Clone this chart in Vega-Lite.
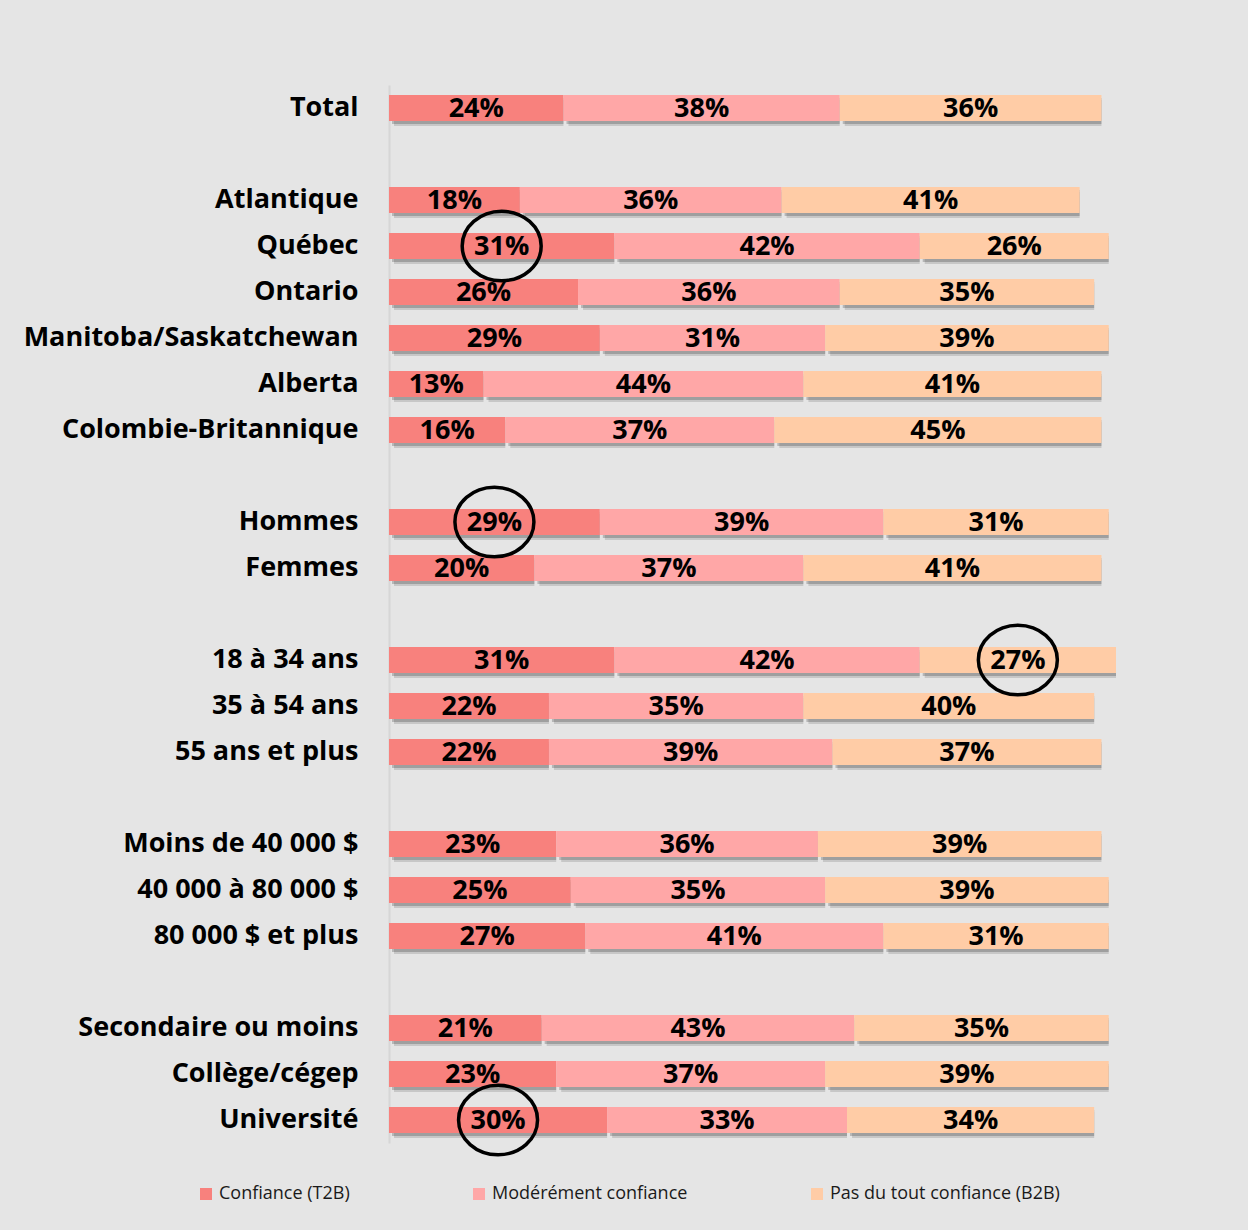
{
  "$schema": "https://vega.github.io/schema/vega-lite/v6.json",
  "autosize": "none",
  "width": 727,
  "height": 1058,
  "padding": {"left": 389, "top": 85, "right": 132, "bottom": 87},
  "background": "#E5E5E5",
  "config": {"view": {"stroke": null}, "font": "Open Sans"},
  "data": {"values": [
    {"row": "Total", "cat": "Confiance (T2B)", "v": 0.24, "circ": false},
    {"row": "Total", "cat": "Modérément confiance", "v": 0.38, "circ": false},
    {"row": "Total", "cat": "Pas du tout confiance (B2B)", "v": 0.36, "circ": false},
    {"row": "Atlantique", "cat": "Confiance (T2B)", "v": 0.18, "circ": false},
    {"row": "Atlantique", "cat": "Modérément confiance", "v": 0.36, "circ": false},
    {"row": "Atlantique", "cat": "Pas du tout confiance (B2B)", "v": 0.41, "circ": false},
    {"row": "Québec", "cat": "Confiance (T2B)", "v": 0.31, "circ": true},
    {"row": "Québec", "cat": "Modérément confiance", "v": 0.42, "circ": false},
    {"row": "Québec", "cat": "Pas du tout confiance (B2B)", "v": 0.26, "circ": false},
    {"row": "Ontario", "cat": "Confiance (T2B)", "v": 0.26, "circ": false},
    {"row": "Ontario", "cat": "Modérément confiance", "v": 0.36, "circ": false},
    {"row": "Ontario", "cat": "Pas du tout confiance (B2B)", "v": 0.35, "circ": false},
    {"row": "Manitoba/Saskatchewan", "cat": "Confiance (T2B)", "v": 0.29, "circ": false},
    {"row": "Manitoba/Saskatchewan", "cat": "Modérément confiance", "v": 0.31, "circ": false},
    {"row": "Manitoba/Saskatchewan", "cat": "Pas du tout confiance (B2B)", "v": 0.39, "circ": false},
    {"row": "Alberta", "cat": "Confiance (T2B)", "v": 0.13, "circ": false},
    {"row": "Alberta", "cat": "Modérément confiance", "v": 0.44, "circ": false},
    {"row": "Alberta", "cat": "Pas du tout confiance (B2B)", "v": 0.41, "circ": false},
    {"row": "Colombie-Britannique", "cat": "Confiance (T2B)", "v": 0.16, "circ": false},
    {"row": "Colombie-Britannique", "cat": "Modérément confiance", "v": 0.37, "circ": false},
    {"row": "Colombie-Britannique", "cat": "Pas du tout confiance (B2B)", "v": 0.45, "circ": false},
    {"row": "Hommes", "cat": "Confiance (T2B)", "v": 0.29, "circ": true},
    {"row": "Hommes", "cat": "Modérément confiance", "v": 0.39, "circ": false},
    {"row": "Hommes", "cat": "Pas du tout confiance (B2B)", "v": 0.31, "circ": false},
    {"row": "Femmes", "cat": "Confiance (T2B)", "v": 0.20, "circ": false},
    {"row": "Femmes", "cat": "Modérément confiance", "v": 0.37, "circ": false},
    {"row": "Femmes", "cat": "Pas du tout confiance (B2B)", "v": 0.41, "circ": false},
    {"row": "18 à 34 ans", "cat": "Confiance (T2B)", "v": 0.31, "circ": false},
    {"row": "18 à 34 ans", "cat": "Modérément confiance", "v": 0.42, "circ": false},
    {"row": "18 à 34 ans", "cat": "Pas du tout confiance (B2B)", "v": 0.27, "circ": true},
    {"row": "35 à 54 ans", "cat": "Confiance (T2B)", "v": 0.22, "circ": false},
    {"row": "35 à 54 ans", "cat": "Modérément confiance", "v": 0.35, "circ": false},
    {"row": "35 à 54 ans", "cat": "Pas du tout confiance (B2B)", "v": 0.40, "circ": false},
    {"row": "55 ans et plus", "cat": "Confiance (T2B)", "v": 0.22, "circ": false},
    {"row": "55 ans et plus", "cat": "Modérément confiance", "v": 0.39, "circ": false},
    {"row": "55 ans et plus", "cat": "Pas du tout confiance (B2B)", "v": 0.37, "circ": false},
    {"row": "Moins de 40 000 $", "cat": "Confiance (T2B)", "v": 0.23, "circ": false},
    {"row": "Moins de 40 000 $", "cat": "Modérément confiance", "v": 0.36, "circ": false},
    {"row": "Moins de 40 000 $", "cat": "Pas du tout confiance (B2B)", "v": 0.39, "circ": false},
    {"row": "40 000 à 80 000 $", "cat": "Confiance (T2B)", "v": 0.25, "circ": false},
    {"row": "40 000 à 80 000 $", "cat": "Modérément confiance", "v": 0.35, "circ": false},
    {"row": "40 000 à 80 000 $", "cat": "Pas du tout confiance (B2B)", "v": 0.39, "circ": false},
    {"row": "80 000 $ et plus", "cat": "Confiance (T2B)", "v": 0.27, "circ": false},
    {"row": "80 000 $ et plus", "cat": "Modérément confiance", "v": 0.41, "circ": false},
    {"row": "80 000 $ et plus", "cat": "Pas du tout confiance (B2B)", "v": 0.31, "circ": false},
    {"row": "Secondaire ou moins", "cat": "Confiance (T2B)", "v": 0.21, "circ": false},
    {"row": "Secondaire ou moins", "cat": "Modérément confiance", "v": 0.43, "circ": false},
    {"row": "Secondaire ou moins", "cat": "Pas du tout confiance (B2B)", "v": 0.35, "circ": false},
    {"row": "Collège/cégep", "cat": "Confiance (T2B)", "v": 0.23, "circ": false},
    {"row": "Collège/cégep", "cat": "Modérément confiance", "v": 0.37, "circ": false},
    {"row": "Collège/cégep", "cat": "Pas du tout confiance (B2B)", "v": 0.39, "circ": false},
    {"row": "Université", "cat": "Confiance (T2B)", "v": 0.30, "circ": true},
    {"row": "Université", "cat": "Modérément confiance", "v": 0.33, "circ": false},
    {"row": "Université", "cat": "Pas du tout confiance (B2B)", "v": 0.34, "circ": false}
  ]},
  "transform": [
    {"stack": "v", "groupby": ["row"], "sort": [{"field": "cat"}], "as": ["x0", "x1"]},
    {"calculate": "(datum.x0 + datum.x1) / 2", "as": "mid"}
  ],
  "encoding": {
    "y": {
      "field": "row", "type": "nominal", "title": null,
      "scale": {
        "domain": ["Total", " ", "Atlantique", "Québec", "Ontario", "Manitoba/Saskatchewan", "Alberta", "Colombie-Britannique", "  ", "Hommes", "Femmes", "   ", "18 à 34 ans", "35 à 54 ans", "55 ans et plus", "    ", "Moins de 40 000 $", "40 000 à 80 000 $", "80 000 $ et plus", "     ", "Secondaire ou moins", "Collège/cégep", "Université"],
        "paddingInner": 0.44, "paddingOuter": 0.22
      },
      "axis": {
        "ticks": false, "labelPadding": 31, "labelFont": "Open Sans", "labelFontWeight": "bold",
        "labelFontSize": 27, "labelColor": "#000000", "domainColor": "#D6D6D6", "domainWidth": 2,
        "labelLimit": 400
      }
    }
  },
  "layer": [
    {
      "mark": {"type": "bar", "color": "#000000", "opacity": 0.13, "xOffset": 5, "yOffset": 5},
      "encoding": {
        "x": {"field": "x0", "type": "quantitative", "scale": {"domain": [0, 1]}, "axis": null},
        "x2": {"field": "x1"}
      }
    },
    {
      "mark": {"type": "bar", "color": "#000000", "opacity": 0.2, "xOffset": 3, "yOffset": 3},
      "encoding": {
        "x": {"field": "x0", "type": "quantitative"},
        "x2": {"field": "x1"}
      }
    },
    {
      "mark": {"type": "bar"},
      "encoding": {
        "x": {"field": "x0", "type": "quantitative"},
        "x2": {"field": "x1"},
        "color": {
          "field": "cat", "type": "nominal", "title": null,
          "scale": {"domain": ["Confiance (T2B)", "Modérément confiance", "Pas du tout confiance (B2B)"], "range": ["#F8817D", "#FFA7A7", "#FFCCA6"]},
          "legend": {
            "orient": "none", "legendX": -192, "legendY": 1100, "direction": "horizontal", "columns": 3,
            "symbolType": "square", "symbolSize": 144, "symbolStrokeWidth": 0, "symbolOpacity": 1,
            "labelFont": "Open Sans", "labelFontSize": 18, "labelColor": "#1A1A1A", "labelOffset": 4,
            "columnPadding": 120, "padding": 0, "labelLimit": 400
          }
        }
      }
    },
    {
      "mark": {"type": "text", "font": "Open Sans", "fontWeight": "bold", "fontSize": 27, "color": "#000000", "baseline": "middle", "align": "center", "dy": 1},
      "encoding": {
        "x": {"field": "mid", "type": "quantitative"},
        "text": {"field": "v", "type": "quantitative", "format": ".0%"}
      }
    },
    {
      "transform": [{"filter": "datum.circ"}],
      "mark": {"type": "point", "shape": "M-1,0A1,0.88 0 1,1 1,0A1,0.88 0 1,1 -1,0Z", "size": 6241, "filled": false, "stroke": "#000000", "strokeWidth": 3.5, "opacity": 1},
      "encoding": {
        "x": {"field": "mid", "type": "quantitative"}
      }
    }
  ]
}
